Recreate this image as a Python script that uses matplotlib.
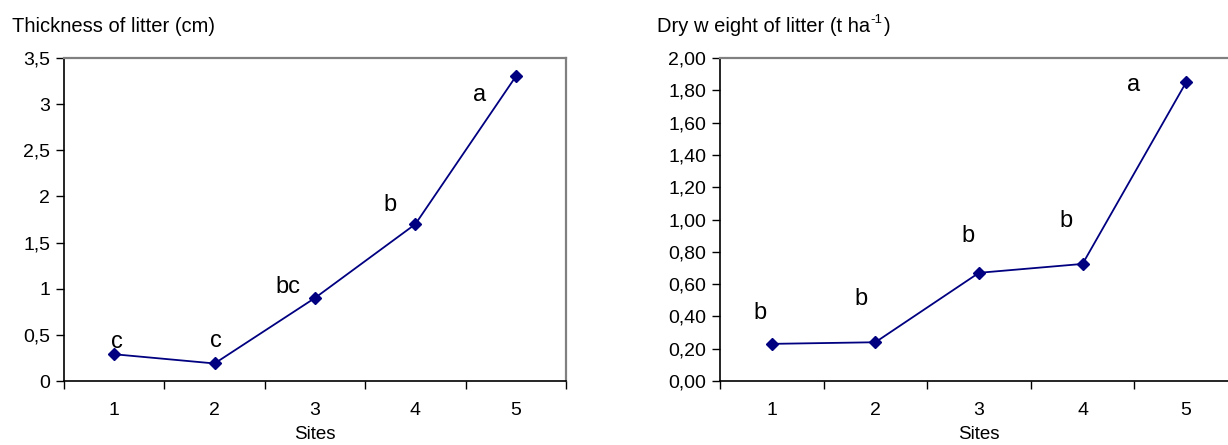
import matplotlib.pyplot as plt
from matplotlib.text import Annotation
import numpy as np

plt.rcParams['font.family'] = ['Liberation Sans', 'DejaVu Sans']

sites = [1, 2, 3, 4, 5]
thickness = [0.29, 0.19, 0.90, 1.70, 3.30]
dry_weight = [0.23, 0.24, 0.67, 0.725, 1.85]
thick_letters = ['c', 'c', 'bc', 'b', 'a']
dry_letters = ['b', 'b', 'b', 'b', 'a']

fig = plt.figure(figsize=(12.28, 4.45), dpi=100)
ax1 = fig.add_axes([0.0521, 0.1438, 0.4088, 0.7258])
ax2 = fig.add_axes([0.5863, 0.1438, 0.4218, 0.7258])


def style(ax, y, ymax, ystep, fmt):
    ax.plot(sites, y, color='#000080', marker='D', markersize=6.5, linewidth=1.3)
    ax.set_xlim(0.5, 5.5)
    ax.set_ylim(0, ymax)
    # category axis: ticks between the sites, labels at the sites
    ax.set_xticks(np.arange(0.5, 6, 1))
    ax.set_xticklabels([])
    ax.set_xticks(sites, minor=True)
    ax.set_xticklabels([str(s) for s in sites], minor=True, fontsize=14)
    ax.tick_params(axis='x', which='minor', length=0, pad=15)
    ax.tick_params(axis='x', which='major', length=6, direction='out', width=1)
    yt = np.arange(0, ymax + ystep / 2, ystep)
    ax.set_yticks(yt)
    ax.set_yticklabels([fmt(v) for v in yt], fontsize=14)
    ax.tick_params(axis='y', length=6, direction='out', width=1, pad=4)
    for s in ['top', 'right']:
        ax.spines[s].set_color('#808080')
        ax.spines[s].set_linewidth(1.6)
    for s in ['left', 'bottom']:
        ax.spines[s].set_color('black')
        ax.spines[s].set_linewidth(1.2)
    ax.set_xlabel('Sites', fontsize=13.5, labelpad=5)


style(ax1, thickness, 3.5, 0.5, lambda v: ('%g' % v).replace('.', ','))
style(ax2, dry_weight, 2.0, 0.2, lambda v: ('%.2f' % v).replace('.', ','))

# significance letters
thick_pos = [(1.03, 0.42), (2.01, 0.43), (2.73, 1.02), (3.75, 1.91), (4.64, 3.10)]
dry_pos = [(0.89, 0.42), (1.86, 0.51), (2.89, 0.90), (3.84, 0.99), (4.49, 1.83)]
for t, (x, y) in zip(thick_letters, thick_pos):
    ax1.text(x, y, t, fontsize=17, ha='center', va='center')
for t, (x, y) in zip(dry_letters, dry_pos):
    ax2.text(x, y, t, fontsize=17, ha='center', va='center')

fig.text(12 / 1228, 1 - 26 / 445, 'Thickness of litter (cm)', fontsize=14.5, va='center')
t1 = fig.text(657 / 1228, 1 - 26 / 445, 'Dry w eight of litter (t ha', fontsize=14.5,
              va='center')
sup = Annotation('-1', xy=(1, 0.5), xycoords=t1, va='bottom', fontsize=9.5)
fig.add_artist(sup)
fig.add_artist(Annotation(')', xy=(1, 0), xycoords=(sup, t1), xytext=(1, 0),
                          textcoords='offset points', va='bottom', fontsize=14.5))

fig.savefig('out.png', dpi=100)
